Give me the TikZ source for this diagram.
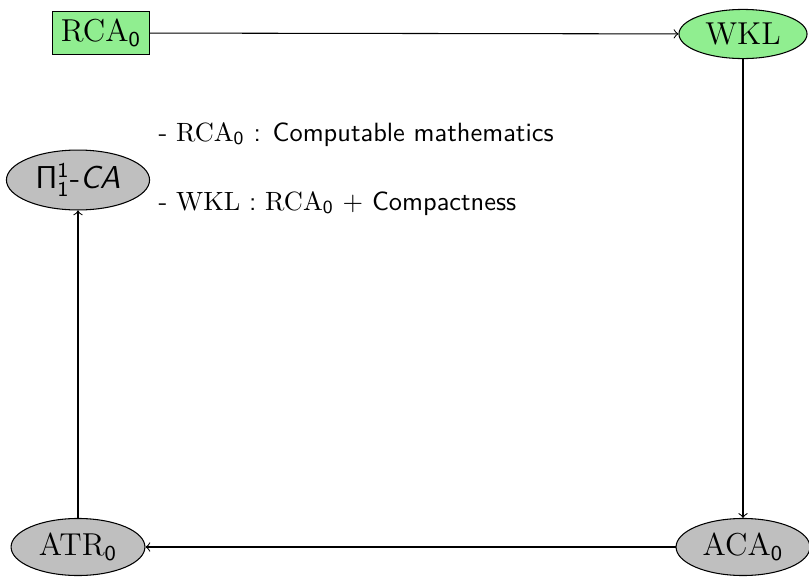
\documentclass[tikz,border=0pt]{standalone}
\usetikzlibrary{shapes.geometric}
\definecolor{boxgreen}{RGB}{144,238,144}
\definecolor{boxgray}{RGB}{191,191,191}
\newcommand{\sysn}[2]{\textrm{#1}$_{\mathsf{#2}}$}
\tikzset{
  sysbox/.style={draw, fill=boxgreen, rectangle, inner sep=0pt, minimum width=36.4pt, minimum height=16.3pt, font=\sffamily\large},
  sysell/.style={draw, ellipse, inner sep=0pt, font=\sffamily\large},
  conn/.style={->, >=to, line width=0.4pt},
  note/.style={anchor=base west, inner sep=0pt, font=\sffamily}
}
\begin{document}
\begin{tikzpicture}[x=0.3787pt,y=-0.3787pt]
\useasboundingbox (0,0) rectangle (809,577);
\node[sysbox] (rca) at (101,33) {\sysn{RCA}{0}};
\node[sysell, fill=boxgreen, minimum width=48.5pt, minimum height=18.6pt] (wkl) at (743,34) {\textrm{WKL}};
\node[sysell, fill=boxgray, minimum width=50.7pt, minimum height=21.6pt] (aca) at (743,547) {\sysn{ACA}{0}};
\node[sysell, fill=boxgray, minimum width=50.7pt, minimum height=21.6pt] (atr) at (78,547) {\sysn{ATR}{0}};
\node[sysell, fill=boxgray, minimum width=54.2pt, minimum height=22.7pt] (pi) at (78,180) {$\mathsf{\Pi}^{\mathsf{1}}_{\mathsf{1}}$-\textit{CA}};
\draw[conn] (rca) -- (wkl);
\draw[conn] (wkl) -- (aca);
\draw[conn] (aca) -- (atr);
\draw[conn] (atr) -- (pi);
\node[note] (n1) at (158,141) {- \sysn{RCA}{0} : Computable mathematics};
\node[note] (n2) at (158,210) {- \textrm{WKL} : \sysn{RCA}{0} $+$ Compactness};
\end{tikzpicture}
\end{document}
